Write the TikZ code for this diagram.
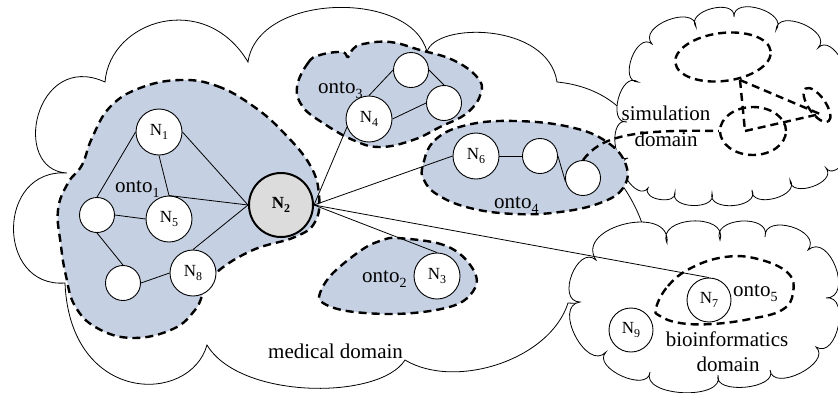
\documentclass[tikz,border=0pt]{standalone}
\usepackage{fontspec}
\setmainfont{Liberation Serif}
\usetikzlibrary{calc,shapes.geometric}
\definecolor{ontoblue}{RGB}{197,208,226}
\definecolor{hubgray}{RGB}{220,220,220}
\newcommand\nsub[1]{N\raisebox{-0.22em}{\fontsize{12}{12}\selectfont #1}}
\newcommand\ontosub[1]{onto\raisebox{-0.25em}{\fontsize{14}{14}\selectfont #1}}
\begin{document}
\begin{tikzpicture}[x=1pt,y=-1pt,
  cloudline/.style={draw=black,line width=0.8pt,fill=white},
  region/.style={draw=black,line width=2.4pt,dash pattern=on 8pt off 5pt,fill=ontoblue},
  ring/.style={draw=black,line width=2.4pt,dash pattern=on 8pt off 5pt,inner sep=0pt},
  dashlink/.style={draw=black,line width=2.4pt,dash pattern=on 8pt off 5pt},
  cnode/.style={circle,draw=black,line width=0.9pt,fill=white,inner sep=0pt,minimum size=46pt,font=\fontsize{17}{17}\selectfont},
  smallnode/.style={cnode,minimum size=35pt},
  link/.style={draw=black,line width=0.8pt},
  lab/.style={font=\fontsize{21}{21}\selectfont,inner sep=0pt},
  bump/.style 2 args={to path={.. controls ($(\tikztostart)!#1!#2:(\tikztotarget)$) and ($(\tikztotarget)!#1!-#2:(\tikztostart)$) .. (\tikztotarget)}}
]
\useasboundingbox (0,0) rectangle (838,392);
\clip (0,0) rectangle (838,392);

% medical domain cloud
\path[cloudline] (65,283) .. controls (-4,288) and (-4,168) .. (67,173)
  .. controls (10,170) and (35,50) .. (105,82)
  .. controls (110,20) and (205,-10) .. (248,62)
  .. controls (258,-8) and (412,-10) .. (427,52)
  .. controls (435,22) and (548,22) .. (557,82)
  .. controls (640,90) and (665,170) .. (608,168)
  .. controls (645,205) and (690,310) .. (568,303)
  .. controls (550,360) and (455,390) .. (405,360)
  .. controls (380,400) and (240,400) .. (207,345)
  .. controls (190,405) and (70,405) .. (65,283) -- cycle;

% simulation domain cloud
\path[cloudline] (648,188) to[bump={0.5}{110}] (628,158) to[bump={0.5}{110}] (627,122)
  to[bump={0.5}{110}] (638,82) to[bump={0.5}{110}] (652,44) to[bump={0.5}{110}] (696,27)
  to[bump={0.5}{110}] (734,17) to[bump={0.5}{110}] (776,30) to[bump={0.5}{110}] (818,48)
  to[bump={0.5}{110}] (838,85) to[bump={0.5}{110}] (845,140) to[bump={0.5}{110}] (826,168)
  to[bump={0.5}{110}] (790,180) to[bump={0.5}{110}] (752,190) to[bump={0.5}{110}] (712,193)
  to[bump={0.5}{110}] (675,192) to[bump={0.5}{110}] (648,188) -- cycle;

% bioinformatics domain cloud
\path[cloudline] (580,302) to[bump={0.55}{110}] (596,260) to[bump={0.55}{110}] (667,243)
  to[bump={0.55}{110}] (720,240) to[bump={0.55}{110}] (765,237) to[bump={0.55}{110}] (808,250)
  to[bump={0.55}{110}] (826,298) to[bump={0.5}{110}] (816,347) to[bump={0.45}{110}] (770,370)
  to[bump={0.4}{110}] (718,375) to[bump={0.4}{110}] (650,372) to[bump={0.45}{110}] (606,352)
  to[bump={0.5}{110}] (580,302) -- cycle;

% ontology regions
\path[region] plot[smooth cycle,tension=0.7] coordinates {(180,80) (217,86) (253,106) (283,132)
  (310,165) (319,195) (315,222) (295,237) (253,250) (217,272) (204,292) (195,310) (173,329)
  (133,338) (97,328) (75,306) (66,276) (61,246) (58,210) (68,183) (82,165) (92,138) (110,107) (140,88)};
\path[region] plot[smooth cycle,tension=0.7] coordinates {(297,87) (308,63) (320,55) (342,52)
  (348,57) (353,49) (363,44) (390,42) (420,50) (453,60) (477,77) (481,93) (467,113) (440,127)
  (413,140) (380,147) (353,140) (323,123) (303,107)};
\path[region] plot[smooth cycle,tension=0.7] coordinates {(423,165) (435,140) (467,125) (515,121)
  (570,127) (607,142) (626,165) (623,188) (600,203) (560,212) (515,214) (470,208) (438,195) (424,180)};
\path[region] plot[smooth cycle,tension=0.6] coordinates {(397,238) (437,243) (460,254) (475,273)
  (475,288) (460,303) (430,311) (390,314) (347,311) (323,303) (320,293) (333,273) (363,249) (383,240)};
\path[ring] plot[smooth cycle,tension=0.7] coordinates {(656,308) (668,286) (691,268) (725,257)
  (758,259) (788,273) (793,293) (782,310) (750,319) (712,324) (680,323) (660,316)};

% concept nodes
\node[cnode] (N1) at (159,132) {\nsub{1}};
\node[cnode,fill=hubgray,line width=2pt,minimum size=64pt] (N2) at (281,205) {\textbf{\nsub{2}}};
\node[cnode] (N5) at (169,219) {\nsub{5}};
\node[smallnode] (a1) at (97,215) {};
\node[smallnode] (a2) at (123,283) {};
\node[cnode] (N8) at (193,273) {\nsub{8}};
\node[cnode] (N4) at (369,119) {\nsub{4}};
\node[smallnode] (b1) at (411,70) {};
\node[smallnode] (b2) at (444,103) {};
\node[cnode] (N6) at (476,156) {\nsub{6}};
\node[smallnode] (c1) at (540,156) {};
\node[smallnode] (c2) at (583,178) {};
\node[cnode] (N3) at (437,276) {\nsub{3}};
\node[cnode,minimum size=44pt] (N7) at (709,300) {\nsub{7}};
\node[cnode,minimum size=44pt] (N9) at (631,330) {\nsub{9}};

% links
\draw[link] (N1.west) -- (a1.north);
\draw[link] (N1.south) -- (N5.north);
\draw[link] (N1.east) -- (N2.west);
\draw[link] (a1.east) -- (N5.west);
\draw[link] (N5.north) -- (N2.west);
\draw[link] (a1.south) -- (a2.north);
\draw[link] (a2.east) -- (N8.west);
\draw[link] (N8.north) -- (N2.west);
\draw[link] (N2.east) -- (N4.200);
\draw[link] (N2.east) -- (N6.west);
\draw[link] (N2.east) -- (N3.north);
\draw[link] (N2.east) -- (N7.north);
\draw[link] (N4.north) -- (b1.west);
\draw[link] (N4.east) -- (b2.west);
\draw[link] (b1.east) -- (b2.north);
\draw[link] (N6.east) -- (c1.west);
\draw[link] (c1.east) -- (c2.193);

% simulation domain contents
\node[ring,ellipse,minimum width=96pt,minimum height=48pt,rotate=7] (sa) at (723,57) {};
\node[ring,ellipse,minimum width=66pt,minimum height=48pt] (sb) at (753,131) {};
\node[ring,ellipse,minimum width=40pt,minimum height=17pt,rotate=-55] (sc) at (817,105) {};
\coordinate (ta) at (740,80);
\coordinate (tb) at (745,131);
\coordinate (tc) at (820,114);
\draw[dashlink] (ta) -- (tb);
\draw[dashlink] (tb) -- (tc);
\draw[dashlink] (ta) -- (tc);
\draw[dashlink] (c2.north) .. controls (600,138) and (625,129) .. (sb.west);

% labels
\node[lab,anchor=base west] (l1) at (115,192) {\ontosub{1}};
\node[lab,anchor=base west] (l3) at (318,93) {\ontosub{3}};
\node[lab,anchor=base west] (l4) at (494,208) {\ontosub{4}};
\node[lab,anchor=base west] (l2) at (362,282) {\ontosub{2}};
\node[lab,anchor=base west] (l5) at (733,296) {\ontosub{5}};
\node[lab,anchor=base west] (lmed) at (268,358) {medical domain};
\node[lab,anchor=base] (lsim1) at (666,120) {simulation};
\node[lab,anchor=base] (lsim2) at (666,146) {domain};
\node[lab,anchor=base] (lbio1) at (727,346) {bioinformatics};
\node[lab,anchor=base] (lbio2) at (728,371) {domain};
\end{tikzpicture}
\end{document}
